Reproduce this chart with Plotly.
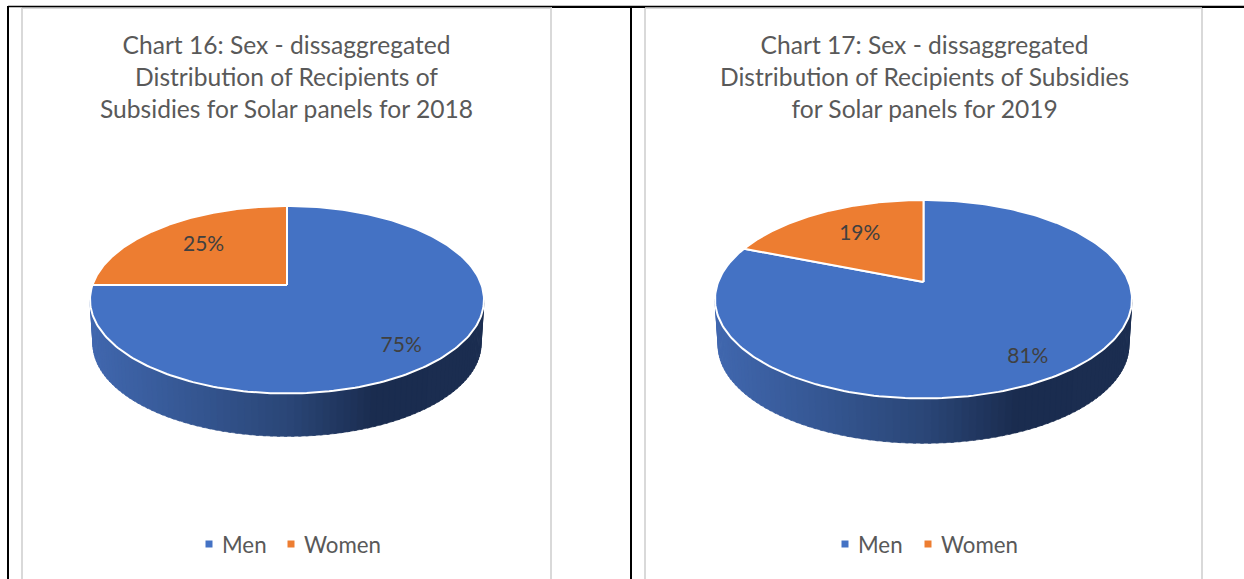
import numpy as np
import plotly.graph_objects as go

# ---- data ----
categories = ["Men", "Women"]
values_2018 = [75, 25]
values_2019 = [81, 19]
title_2018 = "Chart 16: Sex - dissaggregated<br>Distribution of Recipients of<br>Subsidies for Solar panels for 2018"
title_2019 = "Chart 17: Sex - dissaggregated<br>Distribution of Recipients of Subsidies<br>for Solar panels for 2019"

# ---- styling / layout constants ----
W, H = 1244, 579
SLICE = ["#4472C4", "#ED7D31"]
TEXT = "#595959"
LABEL = "#404040"
GRAD = [(0.0, (64, 103, 174)), (0.5, (42, 70, 119)), (0.72, (26, 44, 79)), (1.0, (27, 45, 80))]
FONT = "Lato"

CH1 = dict(cx=287, cy=285, up=79, down=108.5, half=197, depth=44.5, label_r=[0.76, 0.65], label_dy=[8, 0], tx=286.5, key_x=[209, 291])
CH2 = dict(cx=923.5, cy=282, up=82, down=116.5, half=208.5, depth=46.5, label_r=[0.8, 0.6], label_dy=[4, -3], tx=924, key_x=[845, 928])
KEY_Y = 544
KEY_GAP = 10.5


def projector(c):
    p = (c["down"] - c["up"]) / (c["down"] + c["up"])
    a = c["up"] * (1 + p)
    b = c["half"] * np.sqrt(1 - p * p)

    def proj(theta, r=1.0, scale=1.0, drop=0.0):
        u = r * np.sin(theta)
        v = r * np.cos(theta)
        d = 1 + p * v
        return c["cx"] + scale * b * u / d, c["cy"] - scale * a * v / d + drop

    return proj, p


def grad_color(t):
    for (t0, c0), (t1, c1) in zip(GRAD, GRAD[1:]):
        if t <= t1:
            f = (t - t0) / (t1 - t0)
            return "rgb(%d,%d,%d)" % tuple(round(x + (y - x) * f) for x, y in zip(c0, c1))
    return "rgb(%d,%d,%d)" % GRAD[-1][1]


fig = go.Figure()
annotations = []


def poly(x, y, fill=None, line=None, width=1.0):
    fig.add_trace(go.Scatter(
        x=x, y=y, mode="lines", showlegend=False, hoverinfo="skip",
        fill="toself" if fill else "none", fillcolor=fill,
        line=dict(color=line or "rgba(0,0,0,0)", width=width if line else 0),
    ))


def draw_pie(values, c):
    proj, p = projector(c)
    total = sum(values)
    # side wall
    t0 = np.arctan2(np.sqrt(1 - p * p), -p)
    t1 = 2 * np.pi - t0
    n = 90
    edges = np.linspace(t0, t1, n + 1)
    lx, _ = proj(t0)
    rx, _ = proj(t1)
    lx, rx = min(lx, rx), max(lx, rx)
    for i in range(n):
        th = np.linspace(edges[i], min(edges[i + 1] + 0.012, t1), 3)
        xa, ya = proj(th)
        xb, yb = proj(th[::-1], scale=0.985, drop=c["depth"])
        col = grad_color((xa.mean() - lx) / (rx - lx))
        poly(np.r_[xa, xb, xa[0]], np.r_[ya, yb, ya[0]], fill=col, line=col, width=0.6)
    # top slices
    start = 0.0
    bounds = []
    for val, col in zip(values, SLICE):
        end = start + 2 * np.pi * val / total
        th = np.linspace(start, end, 240)
        x, y = proj(th)
        x = np.r_[c["cx"], x, c["cx"]]
        y = np.r_[c["cy"], y, c["cy"]]
        poly(x, y, fill=col, line="#FFFFFF", width=2)
        bounds.append((start, end))
        start = end
    # data labels
    for val, (s, e), r, dy in zip(values, bounds, c["label_r"], c["label_dy"]):
        lxp, lyp = proj((s + e) / 2, r=r)
        fig.add_trace(go.Scatter(
            x=[lxp], y=[lyp + dy], mode="text", text=[f"{val}%"], showlegend=False, hoverinfo="skip",
            textposition="middle center", textfont=dict(family=FONT, size=21, color=LABEL),
        ))
    # key: one square and one label per category
    for name, col, kx in zip(categories, SLICE, c["key_x"]):
        fig.add_trace(go.Scatter(
            x=[kx], y=[KEY_Y], mode="markers", name=name, showlegend=False,
            marker=dict(symbol="square", size=7, color=col),
        ))
        annotations.append(dict(
            text=name, x=kx + KEY_GAP, y=KEY_Y, xref="x", yref="y", xanchor="left", yanchor="middle",
            showarrow=False, font=dict(family=FONT, size=22.3, color=TEXT),
        ))


draw_pie(values_2018, CH1)
draw_pie(values_2019, CH2)

shapes = []
for x0, x1 in [(22, 551), (645, 1202)]:
    shapes.append(dict(type="line", xref="x", yref="y", x0=x0, x1=x0, y0=8, y1=H, line=dict(color="#D9D9D9", width=2), layer="below"))
    shapes.append(dict(type="line", xref="x", yref="y", x0=x1, x1=x1, y0=8, y1=H, line=dict(color="#D9D9D9", width=2), layer="below"))
    shapes.append(dict(type="line", xref="x", yref="y", x0=x0, x1=x1, y0=8, y1=8, line=dict(color="#D9D9D9", width=2), layer="below"))
shapes.append(dict(type="line", xref="x", yref="y", x0=8, x1=W, y0=6.5, y1=6.5, line=dict(color="#000000", width=1.5), layer="below"))
shapes.append(dict(type="line", xref="x", yref="y", x0=552, x1=645, y0=7, y1=7, line=dict(color="#000000", width=2), layer="below"))
shapes.append(dict(type="line", xref="x", yref="y", x0=1202, x1=W, y0=7, y1=7, line=dict(color="#000000", width=2), layer="below"))
for x in (8, 631):
    shapes.append(dict(type="line", xref="x", yref="y", x0=x, x1=x, y0=6, y1=H, line=dict(color="#000000", width=2), layer="below"))

annotations += [
    dict(text=t, x=c["tx"], y=76.5, xref="x", yref="y", xanchor="center", yanchor="middle", showarrow=False,
         align="center", font=dict(family=FONT, size=24.6, color=TEXT))
    for t, c in ((title_2018, CH1), (title_2019, CH2))
]

fig.update_layout(
    width=W, height=H, margin=dict(l=0, r=0, t=0, b=0),
    paper_bgcolor="#FFFFFF", plot_bgcolor="#FFFFFF", showlegend=False,
    xaxis=dict(range=[0, W], visible=False, fixedrange=True),
    yaxis=dict(range=[H, 0], visible=False, fixedrange=True),
    shapes=shapes, annotations=annotations,
)
fig.write_html("out.html", config={"displayModeBar": False},
               post_script="document.body.style.margin='0';document.documentElement.style.overflow='hidden';")
